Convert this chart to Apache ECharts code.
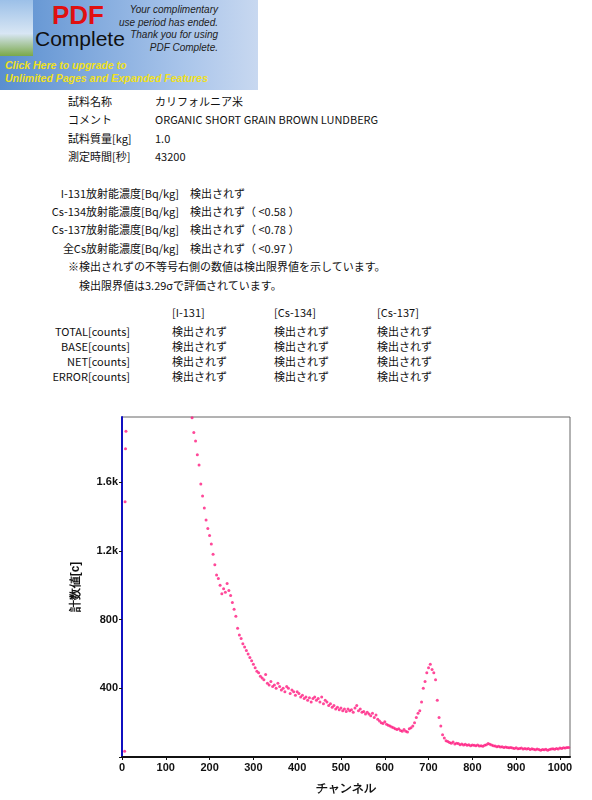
<!DOCTYPE html>
<html><head><meta charset="utf-8">
<script src="https://cdn.jsdelivr.net/npm/echarts@6/dist/echarts.min.js"></script>
<style>
body{margin:0;width:592px;height:800px;position:relative;background:#fff;font-family:"Noto Sans CJK JP",sans-serif;overflow:hidden}
.t{position:absolute;font-size:11px;color:#111;white-space:nowrap;line-height:1}
#chart{position:absolute;left:0;top:395px;width:592px;height:405px}
#banner{position:absolute;left:0;top:0;width:258px;height:90px;background:linear-gradient(90deg,#5a8fd0,#a8c4ea 70%,#c8d8f0)}
</style></head><body>
<div id="banner">
 <div style="position:absolute;left:0;top:0;width:33px;height:56px;background:linear-gradient(#9cc0e8,#d8e6f4 60%,#7aa84a)"></div>
 <div style="position:absolute;left:52px;top:0px;font:bold 26px 'Liberation Sans Narrow','Liberation Sans';color:#e01010">PDF</div>
 <div style="position:absolute;left:35px;top:27px;font:21px 'Liberation Sans Narrow','Liberation Sans';color:#111">Complete</div>
 <div style="position:absolute;right:40px;top:4px;font:italic 10px 'Liberation Sans';color:#222;text-align:right;line-height:12.5px">Your complimentary<br>use period has ended.<br>Thank you for using<br>PDF Complete.</div>
 <div style="position:absolute;left:5px;top:59px;font:bold italic 10.5px 'Liberation Sans';color:#f0e020;line-height:13px">Click Here to upgrade to<br>Unlimited Pages and Expanded Features</div>
</div>
<div id="txt"></div>
<div id="chart"></div>
<script>
var infoLabels=["試料名称","コメント","試料質量[kg]","測定時間[秒]"];
var infoValues=["カリフォルニア米","ORGANIC SHORT GRAIN BROWN LUNDBERG","1.0","43200"];
var concLabels=["I-131放射能濃度[Bq/kg]","Cs-134放射能濃度[Bq/kg]","Cs-137放射能濃度[Bq/kg]","全Cs放射能濃度[Bq/kg]"];
var concValues=["検出されず","検出されず（ <0.58 ）","検出されず（ <0.78 ）","検出されず（ <0.97 ）"];
var notes=["※検出されずの不等号右側の数値は検出限界値を示しています。","　検出限界値は3.29σで評価されています。"];
var tableHeaders=["[I-131]","[Cs-134]","[Cs-137]"];
var tableRows=["TOTAL[counts]","BASE[counts]","NET[counts]","ERROR[counts]"];
var tableCell="検出されず";

var earlyChannels=[6,7,8,9];
var earlyCounts=[33,1486,1795,1897];
var startChannel=160, step=4;
var counts=[1975,1890,1840,1760,1700,1590,1520,1450,1380,1330,1290,
1240,1180,1120,1060,1040,1000,950,980,960,1010,
970,940,900,860,820,750,710,690,660,640,
620,600,580,560,540,520,500,490,470,460,
450,480,430,420,440,410,420,400,430,410,
390,400,380,410,400,370,390,380,360,380,
370,350,360,340,350,330,345,320,340,350,
330,340,320,350,310,330,320,300,310,290,
300,280,290,275,285,270,280,265,280,270,
275,260,285,300,270,280,260,265,250,260,
250,240,255,230,245,220,210,200,195,205,
190,185,180,175,170,165,160,165,155,150,
160,150,145,165,170,180,200,230,255,270,
320,400,440,490,520,540,510,490,450,330,
230,180,130,110,95,90,85,80,88,75,
80,78,72,76,70,74,68,72,66,70,
68,65,70,64,66,62,68,72,78,74,
70,66,64,60,62,58,60,56,58,55,
54,56,52,50,54,48,50,52,47,49,
46,50,44,48,45,42,46,44,40,43,
42,45,40,44,46,48,45,50,47,52,
50,54,52,56,55];

var h='';
function add(x,y,s,extra){h+='<div class="t" style="left:'+x+'px;top:'+y+'px;'+(extra||'')+'">'+s.replace(/</g,'&lt;')+'</div>';}
var iy=[96,114,133,151];
infoLabels.forEach(function(l,i){add(68,iy[i],l);add(155,iy[i],infoValues[i]);});
var cy=[188,206,224,243];
concLabels.forEach(function(l,i){add(0,cy[i],l,'width:179px;text-align:right');add(190,cy[i],concValues[i]);});
add(68,261,notes[0]);add(68,280,notes[1]);
var cx=[172,274,377];
tableHeaders.forEach(function(t,i){add(cx[i],307,t);});
var ry=[326,341,356,371];
tableRows.forEach(function(r,i){add(0,ry[i],r,'width:130px;text-align:right');cx.forEach(function(x){add(x,ry[i],tableCell);});});
document.getElementById('txt').innerHTML=h;

var data=[];
earlyChannels.forEach(function(c,i){data.push([c,earlyCounts[i]]);});
counts.forEach(function(v,i){data.push([startChannel+i*step,v]);});

var chart=echarts.init(document.getElementById('chart'));
chart.setOption({
 animation:false,
 grid:{left:122,right:22,top:22,bottom:43,show:true,borderColor:'#666',borderWidth:1},
 xAxis:{type:'value',min:0,max:1023,interval:100,name:'チャンネル',nameLocation:'middle',nameGap:26,
  nameTextStyle:{fontWeight:'bold',fontSize:12,color:'#111'},
  axisLine:{lineStyle:{color:'#111',width:2}},axisTick:{show:true,length:3,lineStyle:{color:'#111'}},
  axisLabel:{fontWeight:'bold',fontSize:11,color:'#111',margin:5,showMaxLabel:false,formatter:function(v){return String(v);}},splitLine:{show:false}},
 yAxis:{type:'value',min:0,max:1980,interval:400,name:'計数値[c]',nameLocation:'middle',nameGap:40,
  nameTextStyle:{fontWeight:'bold',fontSize:12,color:'#111'},
  axisLine:{show:true,lineStyle:{color:'#1010c0',width:2}},axisTick:{show:true,length:3,lineStyle:{color:'#111'}},
  axisLabel:{fontWeight:'bold',fontSize:11,color:'#111',margin:4,showMaxLabel:false,
   formatter:function(v){return v===0?'':(v>=1000?(v/1000)+'k':String(v));}},splitLine:{show:false}},
 series:[{type:'scatter',data:data,symbolSize:3,itemStyle:{color:'#ff1a80'}}]
});
</script>
</body></html>
